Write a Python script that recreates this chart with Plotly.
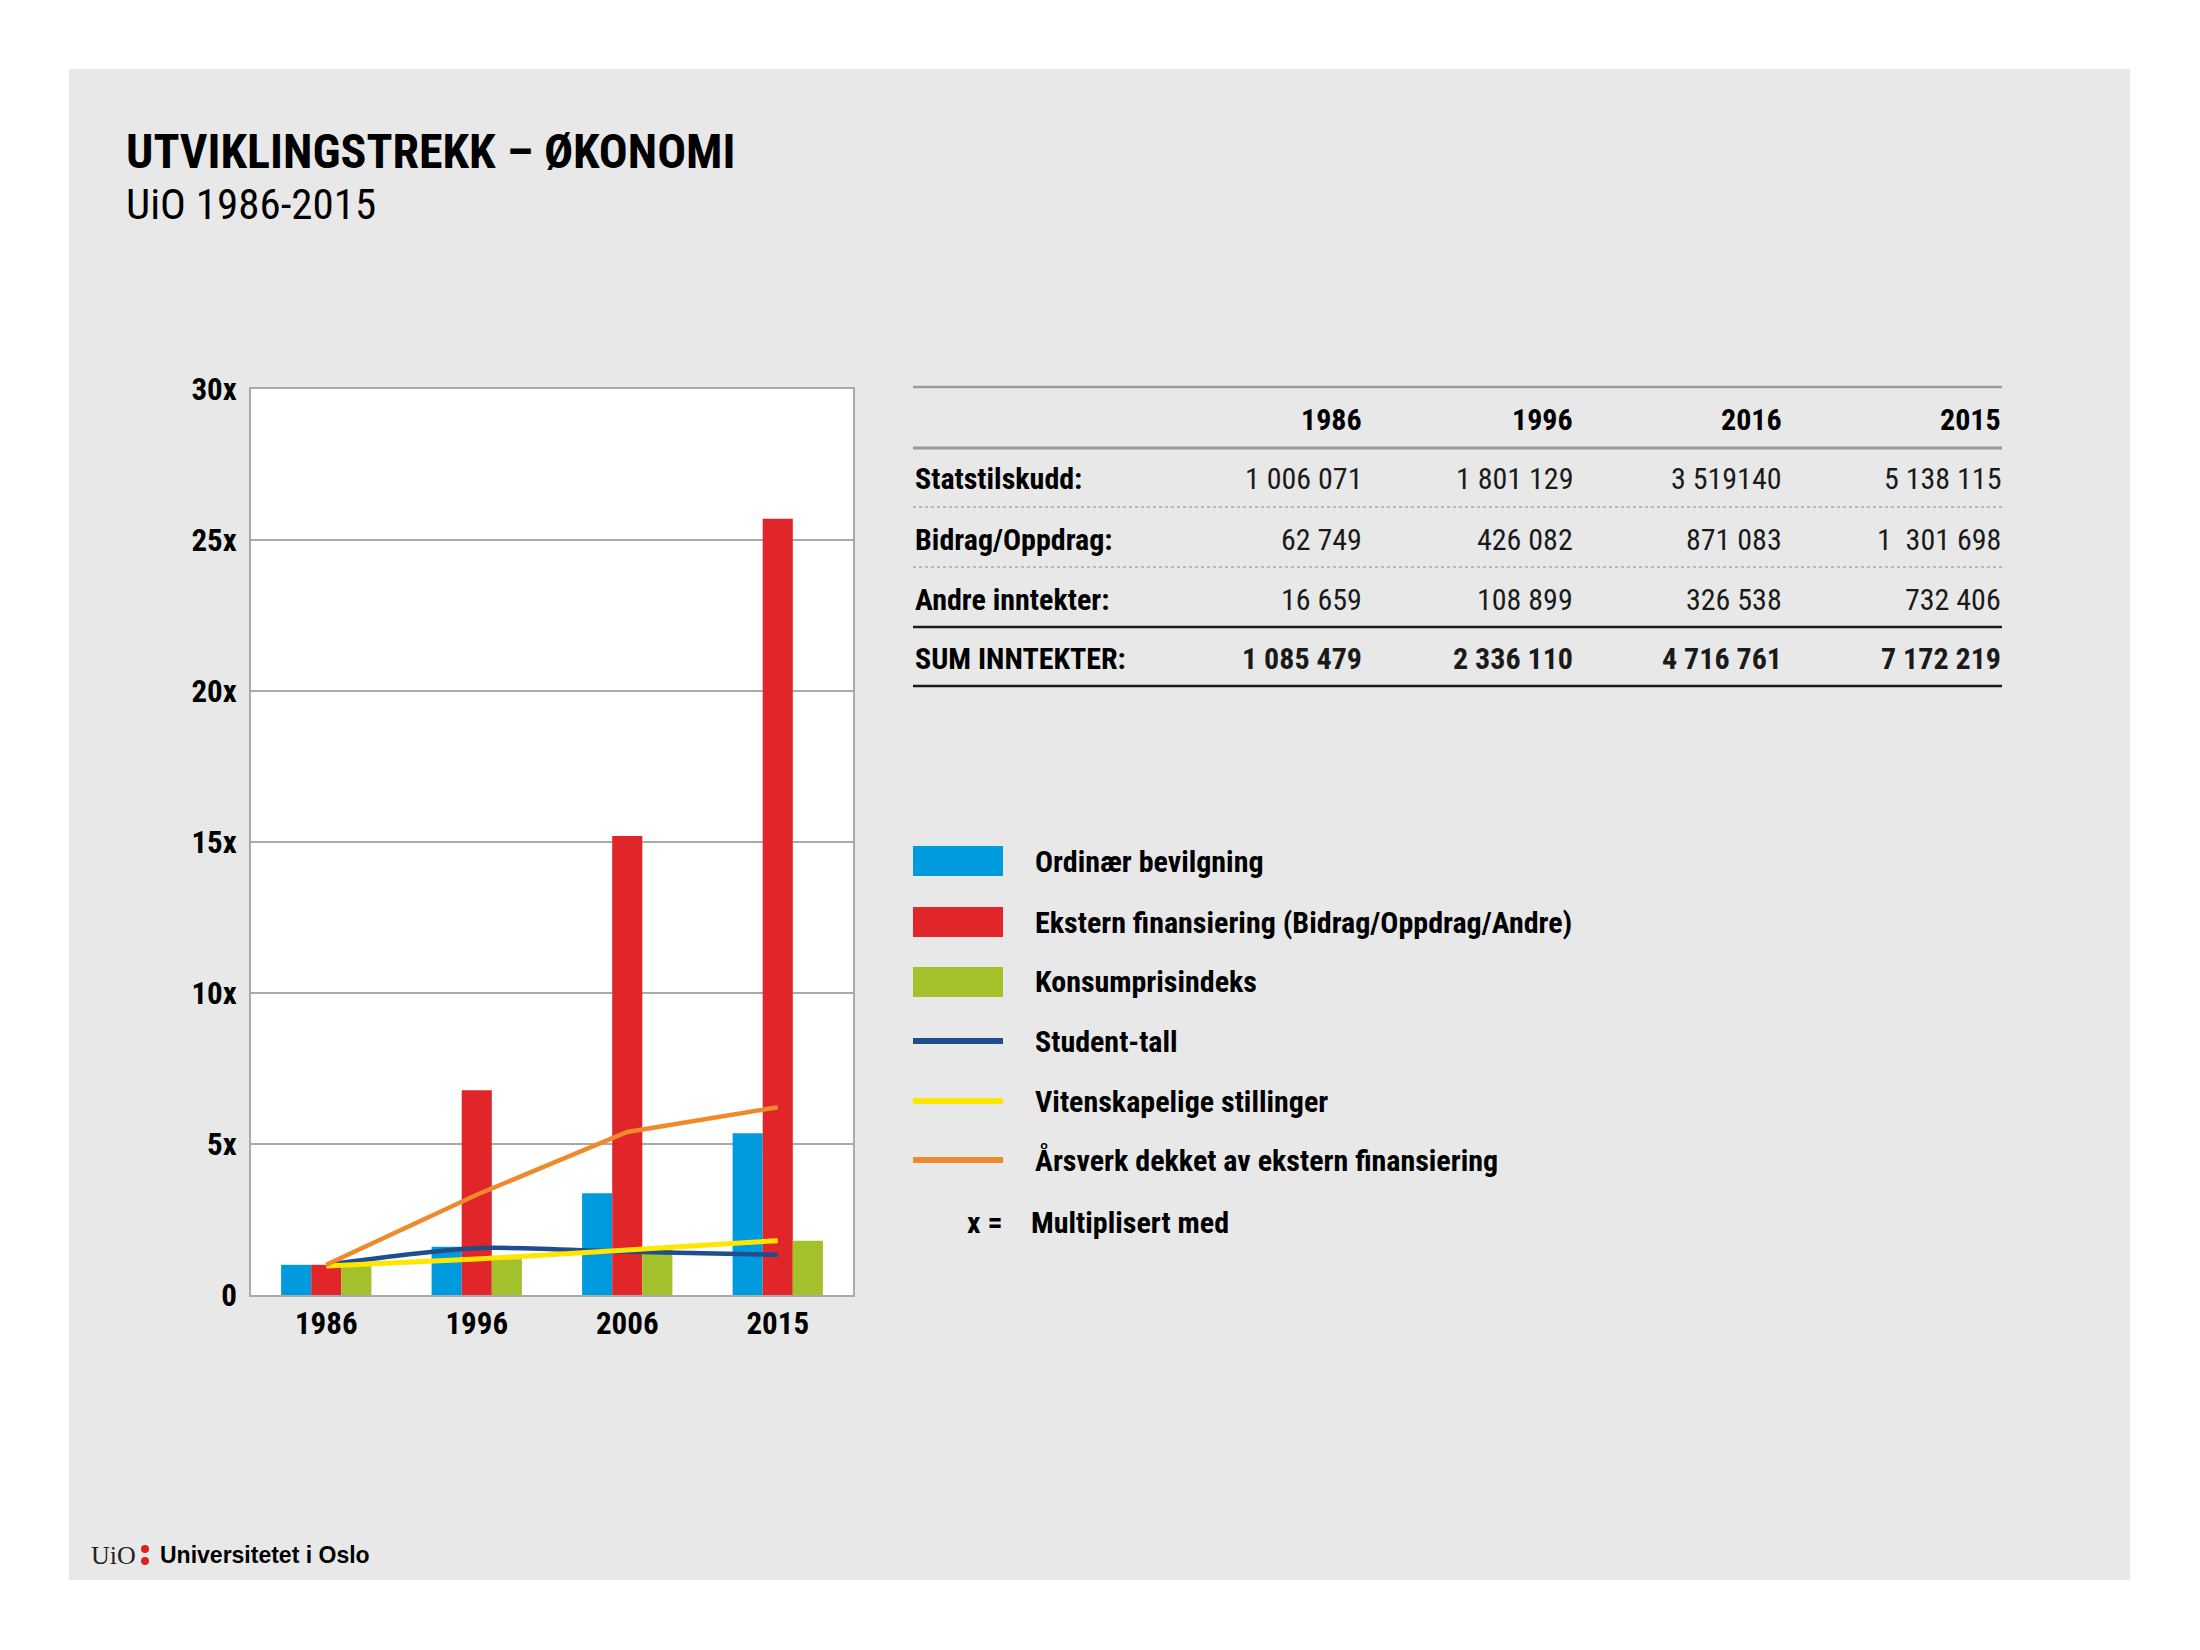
import plotly.graph_objects as go

# ---------------- data ----------------
categories = ["1986", "1996", "2006", "2015"]
ordinaer_bevilgning = [1.0, 1.6, 3.37, 5.36]
ekstern_finansiering = [1.0, 6.78, 15.2, 25.7]
konsumprisindeks = [0.97, 1.18, 1.5, 1.8]
student_tall = [1.0, 1.55, 1.43, 1.33]
vitenskapelige_stillinger = [0.96, 1.19, 1.49, 1.8]
arsverk_ekstern = [1.0, 3.32, 5.4, 6.22]

y_tickvals = [0, 5, 10, 15, 20, 25, 30]
y_ticktext = ["0", "5x", "10x", "15x", "20x", "25x", "30x"]

table_years = ["1986", "1996", "2016", "2015"]
table_rows = ["Statstilskudd:", "Bidrag/Oppdrag:", "Andre inntekter:", "SUM INNTEKTER:"]
statstilskudd = ["1 006 071", "1 801 129", "3 519140", "5 138 115"]
bidrag_oppdrag = ["62 749", "426 082", "871 083", "1\u00a0 301 698"]
andre_inntekter = ["16 659", "108 899", "326 538", "732 406"]
sum_inntekter = ["1 085 479", "2 336 110", "4 716 761", "7 172 219"]

legend_labels = ["Ordinær bevilgning",
                 "Ekstern finansiering (Bidrag/Oppdrag/Andre)",
                 "Konsumprisindeks",
                 "Student-tall",
                 "Vitenskapelige stillinger",
                 "Årsverk dekket av ekstern finansiering"]

title_text = "UTVIKLINGSTREKK – ØKONOMI"
subtitle_text = "UiO 1986-2015"

# ---------------- style ----------------
W, H = 2200, 1650
C_BLUE = "#009BDF"
C_RED = "#E1262A"
C_GREEN = "#A2C12B"
C_NAVY = "#1F4E8C"
C_YELLOW = "#FFE600"
C_ORANGE = "#EF8A2C"
PANEL = "#E8E8E8"
FONT = "Roboto Condensed, Roboto, sans-serif"


def px(x):
    return x / W


def py(y):
    return 1 - y / H


fig = go.Figure()

fig.add_trace(go.Bar(x=categories, y=ordinaer_bevilgning, marker=dict(color=C_BLUE, line=dict(width=0)),
                     name=legend_labels[0]))
fig.add_trace(go.Bar(x=categories, y=ekstern_finansiering, marker=dict(color=C_RED, line=dict(width=0)),
                     name=legend_labels[1]))
fig.add_trace(go.Bar(x=categories, y=konsumprisindeks, marker=dict(color=C_GREEN, line=dict(width=0)),
                     name=legend_labels[2]))
fig.add_trace(go.Scatter(x=categories, y=student_tall, mode="lines",
                         line=dict(color=C_NAVY, width=4.5, shape="spline", smoothing=0.8), name=legend_labels[3]))
fig.add_trace(go.Scatter(x=categories, y=vitenskapelige_stillinger, mode="lines",
                         line=dict(color=C_YELLOW, width=5), name=legend_labels[4]))
fig.add_trace(go.Scatter(x=categories, y=arsverk_ekstern, mode="lines",
                         line=dict(color=C_ORANGE, width=4.5), name=legend_labels[5]))

shapes = []
annotations = []

# background panel + white plot area
shapes.append(dict(type="rect", xref="paper", yref="paper", x0=px(69), x1=px(2130), y0=py(1580), y1=py(69),
                   fillcolor=PANEL, line=dict(width=0), layer="below"))
shapes.append(dict(type="rect", xref="x domain", yref="y domain", x0=0, x1=1, y0=0, y1=1,
                   fillcolor="white", line=dict(width=0), layer="below"))

# title
annotations.append(dict(xref="paper", yref="paper", x=px(124), y=py(151), xanchor="left", yanchor="middle",
                        text="<b>" + title_text + "</b>", showarrow=False,
                        font=dict(family=FONT, size=48, color="black")))
annotations.append(dict(xref="paper", yref="paper", x=px(124), y=py(204), xanchor="left", yanchor="middle",
                        text=subtitle_text, showarrow=False,
                        font=dict(family=FONT, size=43, color="black")))

# ---------------- table ----------------
TX0, TX1 = 913, 2002
col_right = [1364, 1575, 1784, 2003]
row_y = [479, 539, 599, 658]
header_y = 420
shapes.append(dict(type="line", xref="paper", yref="paper", x0=px(TX0), x1=px(TX1), y0=py(387), y1=py(387),
                   line=dict(color="#9A9A9A", width=2.5)))
shapes.append(dict(type="line", xref="paper", yref="paper", x0=px(TX0), x1=px(TX1), y0=py(448), y1=py(448),
                   line=dict(color="#9A9A9A", width=3)))
for yy in (507, 567):
    shapes.append(dict(type="line", xref="paper", yref="paper", x0=px(TX0), x1=px(TX1), y0=py(yy), y1=py(yy),
                       line=dict(color="#A8A8A8", width=1.5, dash="dot")))
for yy in (627, 686):
    shapes.append(dict(type="line", xref="paper", yref="paper", x0=px(TX0), x1=px(TX1), y0=py(yy), y1=py(yy),
                       line=dict(color="#1A1A1A", width=2.5)))

for yr, cx in zip(table_years, col_right):
    annotations.append(dict(xref="paper", yref="paper", x=px(cx), y=py(header_y), xanchor="right",
                            yanchor="middle", text="<b>" + yr + "</b>", showarrow=False,
                            font=dict(family=FONT, size=30, color="black")))

row_values = [statstilskudd, bidrag_oppdrag, andre_inntekter, sum_inntekter]
for i, (lab, vals, yy) in enumerate(zip(table_rows, row_values, row_y)):
    bold = i == 3
    annotations.append(dict(xref="paper", yref="paper", x=px(TX0), y=py(yy), xanchor="left", yanchor="middle",
                            text="<b>" + lab + "</b>", showarrow=False,
                            font=dict(family=FONT, size=30, color="black")))
    for v, cx in zip(vals, col_right):
        annotations.append(dict(xref="paper", yref="paper", x=px(cx), y=py(yy), xanchor="right",
                                yanchor="middle", text=("<b>" + v + "</b>") if bold else v, showarrow=False,
                                font=dict(family=FONT, size=30, color="#1A1A1A")))

# ---------------- legend ----------------
leg_y = [861, 922, 982, 1041, 1101, 1160]
leg_colors = [C_BLUE, C_RED, C_GREEN, C_NAVY, C_YELLOW, C_ORANGE]
leg_kind = ["rect", "rect", "rect", "line", "line", "line"]
SX0, SX1 = 913, 1003
for lab, yy, col, kind in zip(legend_labels, leg_y, leg_colors, leg_kind):
    if kind == "rect":
        shapes.append(dict(type="rect", xref="paper", yref="paper", x0=px(SX0), x1=px(SX1),
                           y0=py(yy + 15), y1=py(yy - 15), fillcolor=col, line=dict(width=0)))
    else:
        shapes.append(dict(type="line", xref="paper", yref="paper", x0=px(SX0), x1=px(SX1),
                           y0=py(yy), y1=py(yy), line=dict(color=col, width=6)))
    annotations.append(dict(xref="paper", yref="paper", x=px(1033), y=py(yy), xanchor="left", yanchor="middle",
                            text="<b>" + lab + "</b>", showarrow=False,
                            font=dict(family=FONT, size=30, color="black")))
annotations.append(dict(xref="paper", yref="paper", x=px(1005), y=py(1222), xanchor="right", yanchor="middle",
                        text="<b>x =</b>", showarrow=False, font=dict(family=FONT, size=30, color="black")))
annotations.append(dict(xref="paper", yref="paper", x=px(1029), y=py(1222), xanchor="left", yanchor="middle",
                        text="<b>Multiplisert med</b>", showarrow=False,
                        font=dict(family=FONT, size=30, color="black")))

# ---------------- footer ----------------
annotations.append(dict(xref="paper", yref="paper", x=px(89), y=py(1555), xanchor="left", yanchor="middle",
                        text="UiO", showarrow=False,
                        font=dict(family="Liberation Serif, DejaVu Serif, serif", size=26, color="#222222")))
for cy in (1549, 1561):
    shapes.append(dict(type="circle", xref="paper", yref="paper", x0=px(141), x1=px(149),
                       y0=py(cy + 4), y1=py(cy - 4), fillcolor="#DD1F26", line=dict(width=0)))
annotations.append(dict(xref="paper", yref="paper", x=px(158), y=py(1555), xanchor="left", yanchor="middle",
                        text="<b>Universitetet i Oslo</b>", showarrow=False,
                        font=dict(family="Liberation Sans, Arial, sans-serif", size=23, color="black")))

fig.update_layout(
    width=W, height=H,
    margin=dict(l=0, r=0, t=0, b=0, autoexpand=False),
    paper_bgcolor="white", plot_bgcolor="white",
    barmode="group", bargap=0.4, bargroupgap=0,
    showlegend=False,
    shapes=shapes, annotations=annotations,
    font=dict(family=FONT, color="black"),
    xaxis=dict(domain=[px(251), px(853)], type="category", range=[-0.5, 3.5], automargin=False,
               showline=True, mirror=True, linecolor="#AAAAAA", linewidth=2,
               showgrid=False, ticks="", ticklabelstandoff=0,
               tickfont=dict(family=FONT, size=31, color="black", weight="bold")),
    yaxis=dict(domain=[py(1295), py(389)], range=[0, 30], tickvals=y_tickvals, ticktext=y_ticktext,
               automargin=False,
               showline=True, mirror=True, linecolor="#AAAAAA", linewidth=2,
               showgrid=True, gridcolor="#AAAAAA", gridwidth=2, zeroline=False,
               ticks="", ticklabelstandoff=6,
               tickfont=dict(family=FONT, size=31, color="black", weight="bold")),
)

post = ("document.documentElement.style.margin='0';document.body.style.margin='0';"
        "document.documentElement.style.overflow='hidden';document.body.style.overflow='hidden';"
        "var gd=document.getElementById('{plot_id}');gd.style.position='absolute';"
        "gd.style.left='0px';gd.style.top='0px';")
fig.write_html("out.html", post_script=post, config={"displayModeBar": False})
